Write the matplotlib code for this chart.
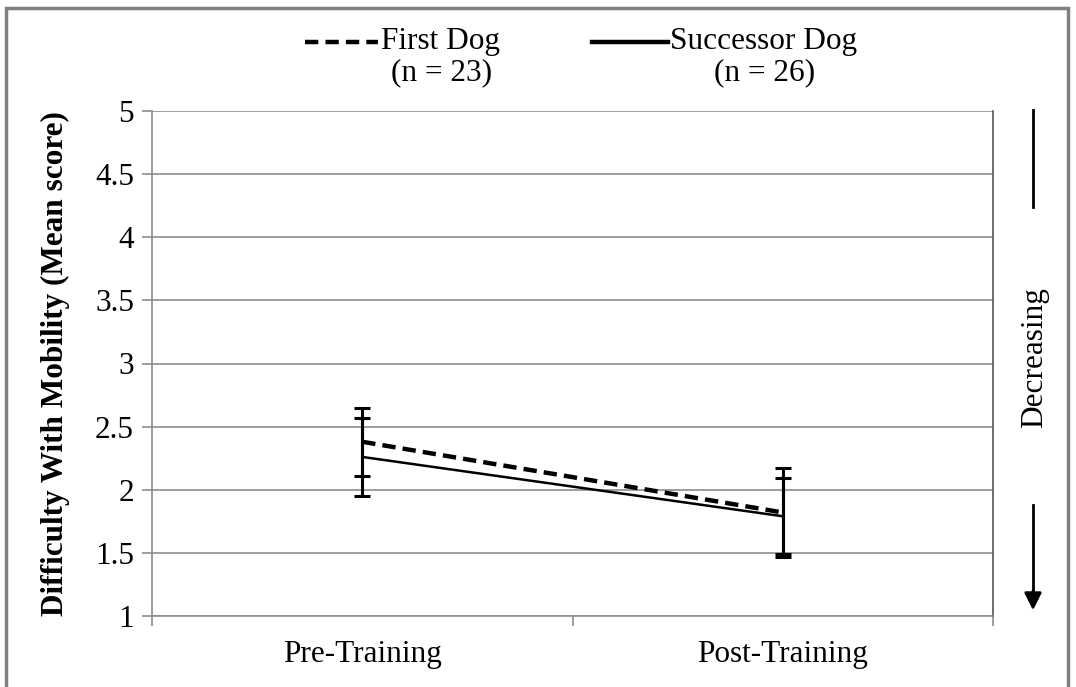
import matplotlib
matplotlib.use("Agg")
import matplotlib.pyplot as plt
from matplotlib.lines import Line2D
from matplotlib.patches import Rectangle

plt.rcParams["font.family"] = ["Liberation Serif", "DejaVu Serif"]

# -------------------------
# data
# -------------------------
groups = ["Pre-Training", "Post-Training"]
first_dog = [2.38, 1.82]
first_err = [0.27, 0.35]
successor = [2.26, 1.79]
successor_err = [0.31, 0.30]
y_ticks = [1, 1.5, 2, 2.5, 3, 3.5, 4, 4.5, 5]

FS = 22.5
W, H = 1076, 687
fig = plt.figure(figsize=(W / 100, H / 100), dpi=100)
ax = fig.add_axes([152 / W, 1 - 616 / H, (993 - 152) / W, (616 - 111) / H])

xpos = [0.5, 1.5]
ax.errorbar(xpos, first_dog, yerr=first_err, color="black", lw=3.2,
            linestyle=(0, (3, 1.6)), capsize=6, capthick=2.2, elinewidth=2.2)
ax.errorbar(xpos, successor, yerr=successor_err, color="black", lw=1.8,
            capsize=6, capthick=2.2, elinewidth=2.2)

ax.set_xlim(0, 2)
ax.set_ylim(1, 5)
ax.set_yticks(y_ticks)
ax.set_yticklabels([f"{v:g}" for v in y_ticks], fontsize=FS)
ax.yaxis.grid(True, color="#8c8c8c", lw=1.2)
ax.set_axisbelow(True)

ax.set_xticks([0, 1, 2])
ax.set_xticklabels([])
ax.set_xticks(xpos, minor=True)
ax.set_xticklabels(groups, minor=True, fontsize=FS)
ax.tick_params(axis="x", which="minor", length=0, pad=17)
ax.tick_params(axis="both", which="major", direction="out", length=7,
               color="#8c8c8c", width=1.2, pad=6)

ax.spines["top"].set_visible(False)
for side in ["left", "bottom", "right"]:
    ax.spines[side].set_color("#8c8c8c")
    ax.spines[side].set_linewidth(1.2)
ax.spines["right"].set_color("#555555")

ax.set_ylabel("Difficulty With Mobility (Mean score)", fontsize=FS,
              fontweight="bold", labelpad=18)

# -------------------------
# legend (manual)
# -------------------------
def fx(px):
    return px / W

def fy(py):
    return 1 - py / H

fig.add_artist(Line2D([fx(305), fx(378)], [fy(42), fy(42)], color="black",
                      lw=3.2, linestyle=(0, (3, 1.6))))
fig.text(fx(381), fy(42), "First Dog", fontsize=FS, ha="left", va="center")
fig.text(fx(442), fy(73), "(n = 23)", fontsize=FS, ha="center", va="center")
fig.add_artist(Line2D([fx(592), fx(668)], [fy(42), fy(42)], color="black",
                      lw=3.2))
fig.text(fx(670), fy(42), "Successor Dog", fontsize=FS, ha="left", va="center")
fig.text(fx(765), fy(73), "(n = 26)", fontsize=FS, ha="center", va="center")

# -------------------------
# "Decreasing" annotation
# -------------------------
fig.text(fx(1035), fy(358), "Decreasing", fontsize=FS, rotation=90,
         ha="center", va="center")
fig.add_artist(Line2D([fx(1033), fx(1033)], [fy(110), fy(207)], color="black", lw=2))
fig.add_artist(Line2D([fx(1033), fx(1033)], [fy(505), fy(600)], color="black", lw=2))
ax.annotate("", xy=(fx(1033), fy(613)), xytext=(fx(1033), fy(588)),
            xycoords="figure fraction",
            arrowprops=dict(arrowstyle="-|>", color="black", lw=2,
                            mutation_scale=26))

# outer frame (bottom edge falls outside the picture)
fig.add_artist(Rectangle((fx(6), fy(700)), fx(1068 - 6), (700 - 8) / H,
                         fill=False, edgecolor="#808080", lw=2.5))

fig.savefig("out.png", dpi=100)
